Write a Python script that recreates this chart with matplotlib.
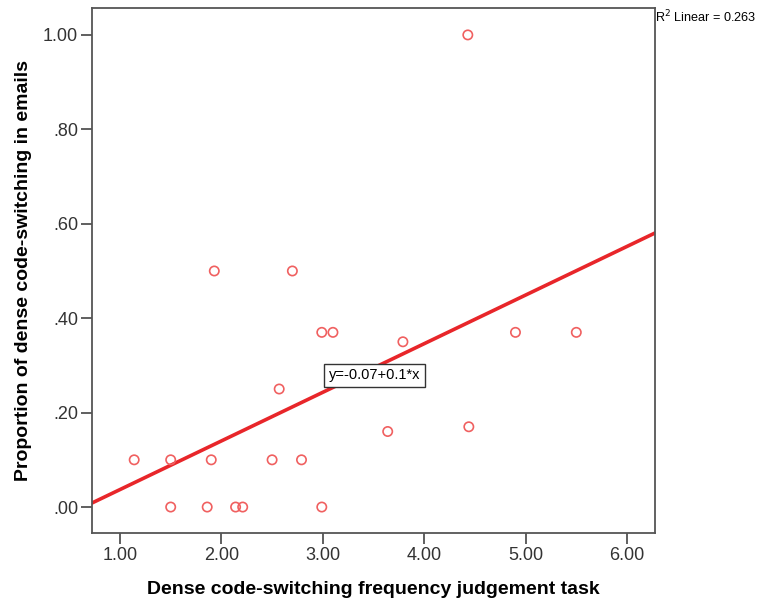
import numpy as np
import matplotlib.pyplot as plt

plt.rcParams['font.family'] = ['Liberation Sans', 'DejaVu Sans']

# data
freq_task = [1.14, 1.50, 1.50, 1.93, 1.90, 1.86, 2.14, 2.21, 2.50, 2.79, 2.57,
             2.70, 2.99, 3.10, 2.99, 3.79, 3.64, 4.43, 4.44, 4.90, 5.50]
prop_emails = [0.10, 0.10, 0.00, 0.50, 0.10, 0.00, 0.00, 0.00, 0.10, 0.10, 0.25,
               0.50, 0.37, 0.37, 0.00, 0.35, 0.16, 1.00, 0.17, 0.37, 0.37]
x_ticks = [1, 2, 3, 4, 5, 6]
x_labels = ['1.00', '2.00', '3.00', '4.00', '5.00', '6.00']
y_ticks = [0, 0.2, 0.4, 0.6, 0.8, 1.0]
y_labels = ['.00', '.20', '.40', '.60', '.80', '1.00']

# fit line as drawn in the chart
intercept = -0.066
slope = 0.103
r2_text = 'R$^2$ Linear = 0.263'
eq_text = 'y=-0.07+0.1*x'

fig = plt.figure(figsize=(7.61, 6.03), dpi=100)
ax = fig.add_axes([92/761, 1 - 533/603, (655-92)/761, (533-8)/603])

xlo, xhi = 0.724, 6.276
ax.set_xlim(xlo, xhi)
ax.set_ylim(-0.055, 1.057)

xs = np.array([xlo, xhi])
ax.plot(xs, intercept + slope*xs, color='#e8262a', lw=2.6, zorder=2)
ax.scatter(freq_task, prop_emails, s=45, facecolors='none',
           edgecolors='#f06060', linewidths=1.2, zorder=3)

ax.set_xticks(x_ticks)
ax.set_xticklabels(x_labels)
ax.set_yticks(y_ticks)
ax.set_yticklabels(y_labels)
ax.tick_params(direction='out', length=8, width=1.2, colors='#444444',
               labelsize=13, labelcolor='#333333', pad=2)
for s in ax.spines.values():
    s.set_color('#555555')
    s.set_linewidth(1.3)

ax.set_xlabel('Dense code-switching frequency judgement task',
              fontsize=14, fontweight='bold', labelpad=12)
ax.set_ylabel('Proportion of dense code-switching in emails',
              fontsize=14, fontweight='bold', labelpad=8)

ax.text(3.51, 0.279, eq_text, fontsize=10.5, ha='center', va='center', zorder=4,
        bbox=dict(boxstyle='square,pad=0.3', fc='white', ec='#333333', lw=1))
fig.text(655/761, 1 - 17/603, r2_text, fontsize=9.1, ha='left', va='center')

fig.savefig('out.png', dpi=100)
